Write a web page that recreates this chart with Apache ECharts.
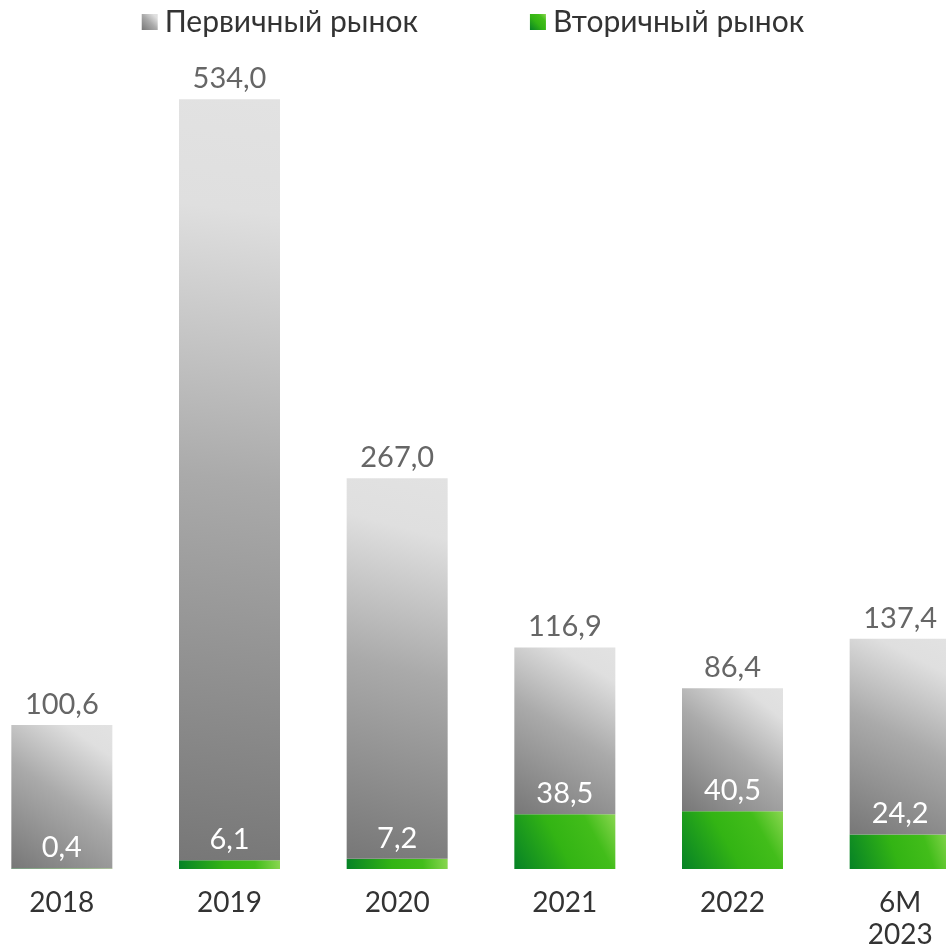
<!DOCTYPE html>
<html>
<head>
<meta charset="utf-8">
<script src="https://cdn.jsdelivr.net/npm/echarts@6/dist/echarts.min.js"></script>
<style>
  html, body { margin: 0; padding: 0; background: #fff; }
  #chart { width: 946px; height: 944px; }
</style>
</head>
<body>
<div id="chart"></div>
<script>
// Categories (years) and the two market segments, stacked per year
const categories = ['2018', '2019', '2020', '2021', '2022', '6M\n2023'];
const primaryMarket = [100.6, 534.0, 267.0, 116.9, 86.4, 137.4];
const secondaryMarket = [0.4, 6.1, 7.2, 38.5, 40.5, 24.2];
const seriesNames = ['Первичный рынок', 'Вторичный рынок'];

const FONT = 'Lato, "Noto Sans", sans-serif';

const fmt = v => v.toFixed(1).replace('.', ',');

const greyGradient = new echarts.graphic.LinearGradient(0, 1, 1, 0, [
  { offset: 0, color: '#777777' },
  { offset: 0.5, color: '#aaaaaa' },
  { offset: 0.85, color: '#dfdfdf' },
  { offset: 1, color: '#e2e2e2' }
]);
const greenGradient = new echarts.graphic.LinearGradient(0, 1, 1, 0, [
  { offset: 0, color: '#068226' },
  { offset: 0.45, color: '#33b414' },
  { offset: 0.75, color: '#42bd1a' },
  { offset: 1, color: '#8ad650' }
]);

const chart = echarts.init(document.getElementById('chart'), null, { renderer: 'canvas' });

chart.setOption({
  animation: false,
  backgroundColor: '#ffffff',
  legend: {
    data: [seriesNames[0], seriesNames[1]],
    top: 2,
    left: 'center',
    icon: 'rect',
    itemWidth: 16,
    itemHeight: 16,
    itemGap: 112,
    textStyle: { fontFamily: FONT, fontSize: 30, color: '#333333', padding: [0, 0, 0, 2] }
  },
  grid: {
    left: -22,
    right: -38,
    top: 14,
    bottom: 75,
    containLabel: false,
    outerBoundsMode: 'none'
  },
  xAxis: {
    type: 'category',
    data: categories,
    axisLine: { show: false },
    axisTick: { show: false },
    axisLabel: {
      margin: 18,
      fontFamily: FONT,
      fontSize: 28,
      lineHeight: 32,
      color: '#333333'
    }
  },
  yAxis: {
    type: 'value',
    min: 0,
    max: 600,
    show: false,
    splitLine: { show: false }
  },
  series: [
    {
      name: seriesNames[1],
      type: 'bar',
      stack: 'total',
      barWidth: 101,
      data: secondaryMarket,
      itemStyle: { color: greenGradient },
      label: {
        show: true,
        position: 'top',
        distance: 6,
        fontFamily: FONT,
        fontSize: 29,
        color: '#ffffff',
        formatter: p => fmt(p.value)
      }
    },
    {
      name: seriesNames[0],
      type: 'bar',
      stack: 'total',
      barWidth: 101,
      data: primaryMarket,
      itemStyle: { color: greyGradient },
      label: {
        show: true,
        position: 'top',
        distance: 6,
        fontFamily: FONT,
        fontSize: 29,
        color: '#666666',
        formatter: p => fmt(p.value)
      }
    }
  ]
});
</script>
</body>
</html>
